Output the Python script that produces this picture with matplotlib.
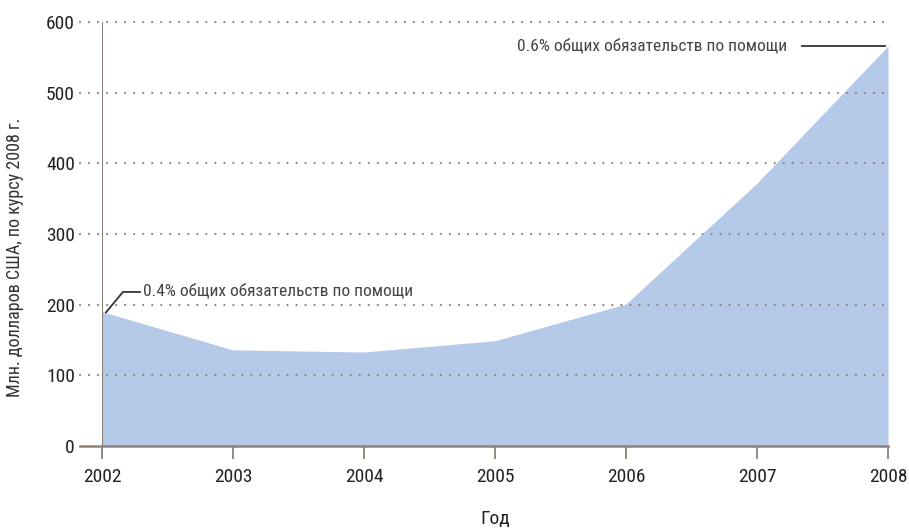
import matplotlib
matplotlib.use("Agg")
import matplotlib.pyplot as plt
from matplotlib import font_manager as fm

years = [2002, 2003, 2004, 2005, 2006, 2007, 2008]
values = [190, 136, 133, 149, 201, 372, 566]
yticks = [0, 100, 200, 300, 400, 500, 600]
ylabel = "Млн. долларов США, по курсу 2008 г."
xlabel = "Год"
note_low = "0.4% общих обязательств по помощи"
note_high = "0.6% общих обязательств по помощи"

names = {f.name for f in fm.fontManager.ttflist}
fam = "DejaVu Sans"
for cand in ["Roboto Condensed", "Open Sans Condensed", "Liberation Sans Narrow", "Archivo Narrow"]:
    if cand in names:
        fam = cand
        break
plt.rcParams['font.family'] = [fam, 'DejaVu Sans']

W, H = 909, 529
fig = plt.figure(figsize=(W/100, H/100), dpi=100)
ax = fig.add_axes([102/W, (H-446)/H, (888-102)/W, (446-22)/H])
ax.set_xlim(2002, 2008)
ax.set_ylim(0, 600)
grid_c = "#8c8279"
ax.fill_between(years, values, 0, color="#b5c9e8", lw=0, zorder=1)

for s in ax.spines.values():
    s.set_visible(False)
ax.axvline(2002, color=grid_c, lw=1.5, zorder=3)
ax.plot([-0.028, 1], [0, 0], transform=ax.transAxes, color=grid_c, lw=1.8, clip_on=False, zorder=3)
for v in yticks[1:]:
    ax.plot([-0.028, 1], [v/600, v/600], transform=ax.transAxes, color=grid_c,
            lw=1.6, ls=(0, (0.01, 4.05)), dash_capstyle='round', clip_on=False, zorder=2)

ax.set_yticks(yticks)
ax.set_xticks(years)
ax.tick_params(axis='y', length=0, pad=19.5, labelsize=14, colors="#222222")
ax.tick_params(axis='x', length=9, width=1.3, color=grid_c, pad=7, labelsize=14, labelcolor="#222222")
fig.text(15/W, 1 - 257/H, ylabel, rotation=90, fontsize=13, color="#333333", ha='center', va='center')
fig.text(495/W, 1 - 519/H, xlabel, fontsize=14, color="#222222", ha='center', va='center')

ax.plot([2002.03, 2002.16, 2002.29], [189, 218, 218], color="#333333", lw=1.3, zorder=4, clip_on=False)
ax.text(2002.31, 219, note_low, fontsize=12.5, color="#444444", va='center', ha='left')
ax.plot([2007.34, 2007.98], [566, 566], color="#333333", lw=1.3, zorder=4)
ax.text(2007.23, 567, note_high, fontsize=12.5, color="#444444", va='center', ha='right')

fig.savefig("out.png", dpi=100)
